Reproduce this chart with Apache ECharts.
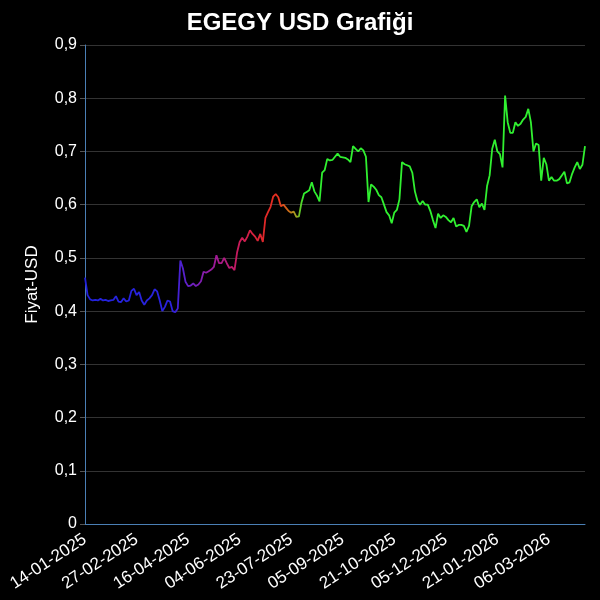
<!DOCTYPE html>
<html>
<head>
<meta charset="utf-8">
<script src="https://cdn.jsdelivr.net/npm/echarts@6/dist/echarts.min.js"></script>
<style>
html,body{margin:0;padding:0;background:#000;}
#chart{width:600px;height:600px;}
</style>
</head>
<body>
<div id="chart"></div>
<script>
var chartTitle = 'EGEGY USD Grafiği';
var yAxisName = 'Fiyat-USD';
var tickDates = ['14-01-2025','27-02-2025','16-04-2025','04-06-2025','23-07-2025','05-09-2025','21-10-2025','05-12-2025','21-01-2026','06-03-2026'];
var pointsPerTick = 20;
var prices = [
0.463,0.430,0.422,0.420,0.421,0.420,0.423,0.420,0.421,0.419,
0.420,0.421,0.428,0.418,0.417,0.424,0.418,0.420,0.438,0.442,
0.430,0.436,0.420,0.412,0.420,0.424,0.430,0.441,0.437,0.420,
0.400,0.408,0.420,0.418,0.400,0.398,0.405,0.495,0.480,0.455,
0.447,0.448,0.452,0.447,0.450,0.456,0.474,0.472,0.475,0.478,
0.483,0.505,0.490,0.490,0.500,0.490,0.481,0.483,0.477,0.510,
0.530,0.538,0.531,0.540,0.552,0.545,0.540,0.532,0.545,0.530,
0.575,0.586,0.596,0.615,0.620,0.614,0.597,0.600,0.594,0.588,
0.585,0.587,0.577,0.578,0.604,0.621,0.624,0.627,0.642,0.625,
0.617,0.606,0.660,0.665,0.686,0.683,0.684,0.690,0.696,0.690,
0.689,0.688,0.685,0.680,0.710,0.705,0.700,0.706,0.702,0.690,
0.605,0.638,0.634,0.628,0.618,0.614,0.600,0.586,0.580,0.565,
0.585,0.590,0.610,0.680,0.676,0.674,0.672,0.660,0.625,0.607,
0.600,0.607,0.600,0.600,0.588,0.571,0.556,0.583,0.575,0.580,
0.577,0.571,0.567,0.575,0.559,0.562,0.562,0.560,0.549,0.560,
0.597,0.605,0.610,0.595,0.602,0.590,0.635,0.655,0.705,0.722,
0.700,0.695,0.670,0.805,0.755,0.735,0.735,0.755,0.748,0.752,
0.760,0.765,0.780,0.755,0.700,0.715,0.712,0.645,0.688,0.676,
0.645,0.652,0.645,0.645,0.648,0.655,0.662,0.640,0.642,0.658,
0.670,0.680,0.667,0.675,0.710
];

function parseD(s){var p=s.split('-');return new Date(Date.UTC(+p[2],+p[1]-1,+p[0]));}
function fmtD(d){function z(n){return (n<10?'0':'')+n;}return z(d.getUTCDate())+'-'+z(d.getUTCMonth()+1)+'-'+d.getUTCFullYear();}
var categories = [];
var lastStep = 2.3;
for (var i = 0; i < prices.length; i++) {
  var s = Math.floor(i / pointsPerTick), j = i % pointsPerTick;
  var d0 = parseD(tickDates[Math.min(s, tickDates.length-1)]);
  var step;
  if (s < tickDates.length - 1) {
    step = (parseD(tickDates[s+1]) - d0) / 86400000 / pointsPerTick;
    lastStep = step;
  } else { step = lastStep; }
  if (s >= tickDates.length) { j = i - (tickDates.length-1)*pointsPerTick; }
  categories.push(fmtD(new Date(d0.getTime() + Math.round(j*step)*86400000)));
}

var n = prices.length - 1;
var stops = [
  {offset: 0, color: '#2222dd'},
  {offset: 34/n, color: '#2a22dd'},
  {offset: 40/n, color: '#6020c8'},
  {offset: 50/n, color: '#9a1a9e'},
  {offset: 60/n, color: '#c81a5a'},
  {offset: 70/n, color: '#e02828'},
  {offset: 75/n, color: '#e83020'},
  {offset: 79/n, color: '#d06a18'},
  {offset: 82/n, color: '#a0a020'},
  {offset: 85/n, color: '#30f030'},
  {offset: 1, color: '#30f030'}
];

var font = 'Liberation Sans, Arial, sans-serif';
var chart = echarts.init(document.getElementById('chart'));
chart.setOption({
  backgroundColor: '#000',
  animation: false,
  title: {
    text: chartTitle, left: 'center', top: 6,
    textStyle: {color: '#fff', fontSize: 24, fontWeight: 'bold', fontFamily: font}
  },
  grid: {left: 85, right: 15, top: 45, bottom: 76},
  xAxis: {
    type: 'category', data: categories, boundaryGap: false,
    axisLine: {lineStyle: {color: '#4a7fb5'}},
    axisTick: {show: false},
    axisLabel: {interval: pointsPerTick - 1, rotate: 33, color: '#fff', fontSize: 17, margin: 14, fontFamily: font},
    splitLine: {show: false}
  },
  yAxis: {
    type: 'value', min: 0, max: 0.9, interval: 0.1,
    name: yAxisName, nameLocation: 'middle', nameGap: 44,
    nameTextStyle: {color: '#fff', fontSize: 17, fontFamily: font},
    axisLine: {show: true, lineStyle: {color: '#4a7fb5'}},
    axisTick: {show: true, length: 5, lineStyle: {color: '#555'}},
    axisLabel: {color: '#fff', fontSize: 16, margin: 8, fontFamily: font,
      formatter: function(v){ return String(Math.round(v*10)/10).replace('.', ','); }},
    splitLine: {lineStyle: {color: '#333'}}
  },
  series: [{
    type: 'line', data: prices, showSymbol: false, smooth: false,
    lineStyle: {width: 1.8, color: new echarts.graphic.LinearGradient(0, 0, 1, 0, stops)}
  }]
});
</script>
</body>
</html>
